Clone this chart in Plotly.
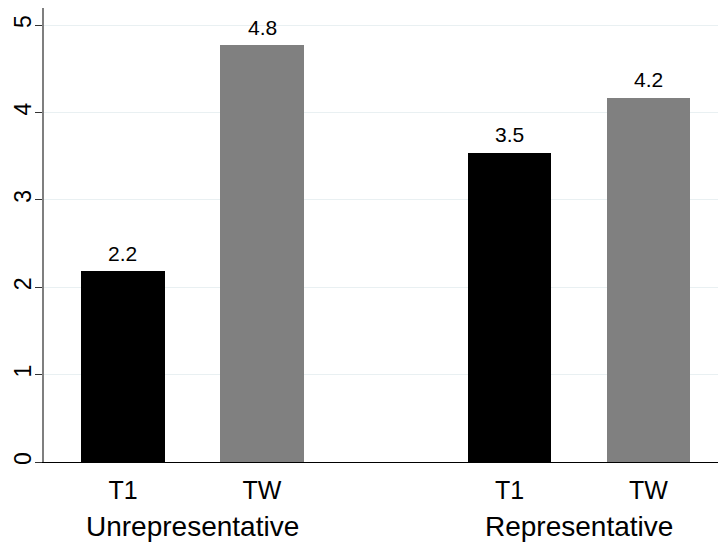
import plotly.graph_objects as go

groups = ["Unrepresentative", "Representative"]
conditions = ["T1", "TW"]
t1_values = [2.18, 3.54]
tw_values = [4.77, 4.17]
y_ticks = [0, 1, 2, 3, 4, 5]

FONT = "Arial, Liberation Sans, sans-serif"
group_offset = 2.78
bar_w = 0.6

x_t1 = [i * group_offset for i in range(len(groups))]
x_tw = [i * group_offset + 1 for i in range(len(groups))]

fig = go.Figure()
fig.add_trace(go.Bar(
    x=x_t1, y=t1_values, width=bar_w, marker=dict(color="#000000", line=dict(width=0)),
    showlegend=False,
))
fig.add_trace(go.Bar(
    x=x_tw, y=tw_values, width=bar_w, marker=dict(color="#808080", line=dict(width=0)),
    showlegend=False,
))

# value labels above bars
for xs, vals in ((x_t1, t1_values), (x_tw, tw_values)):
    for xv, v in zip(xs, vals):
        fig.add_annotation(
            x=xv, y=v, xref="x", yref="y", text=f"{v:.1f}", showarrow=False,
            yanchor="middle", yshift=18,
            font=dict(family=FONT, size=21, color="black"),
        )

tickvals = []
ticktext = []
for i in range(len(groups)):
    for j, c in enumerate(conditions):
        tickvals.append(i * group_offset + j)
        ticktext.append(c)

for i, g in enumerate(groups):
    fig.add_annotation(
        x=i * group_offset + 0.5, xref="x", y=-0.141, yref="paper",
        text=g, showarrow=False, yanchor="middle",
        font=dict(family=FONT, size=28, color="black"),
    )

fig.update_layout(
    width=718, height=535,
    margin=dict(l=36, r=1, t=0, b=81),
    paper_bgcolor="white", plot_bgcolor="white",
    bargap=0,
    xaxis=dict(
        range=[-0.568, 4.33], tickvals=tickvals, ticktext=ticktext,
        showgrid=False, zeroline=False, showline=True, linecolor="black", linewidth=1,
        ticks="outside", ticklen=6, tickcolor="rgba(0,0,0,0)", automargin=False,
        tickfont=dict(family=FONT, size=25, color="black"),
    ),
    yaxis=dict(
        range=[0, 5.195], tickvals=y_ticks, tickangle=-90, automargin=False,
        showgrid=True, gridcolor="#E9F0F2", gridwidth=1, zeroline=False,
        showline=True, linecolor="#7F7F7F", linewidth=1.5,
        ticks="outside", ticklen=7, tickcolor="#333333", ticklabelstandoff=-5,
        tickfont=dict(family=FONT, size=23, color="black"),
    ),
)

fig.write_html("out.html")
